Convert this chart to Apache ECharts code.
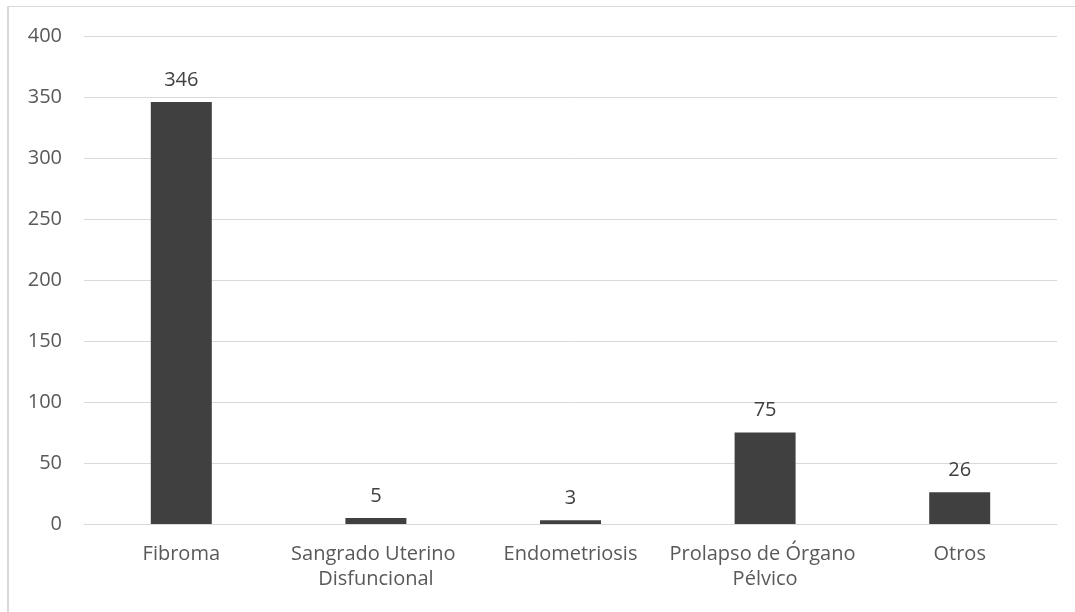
<!DOCTYPE html>
<html>
<head>
<meta charset="utf-8">
<script src="https://cdn.jsdelivr.net/npm/echarts@6/dist/echarts.min.js"></script>
<style>
  html, body { margin: 0; padding: 0; background: #ffffff; }
  #frame { position: absolute; left: 7px; top: 6px; width: 1100px; height: 700px;
           border-top: 1px solid #d9d9d9; border-left: 2px solid #d9d9d9; }
  #chart { position: absolute; left: 0; top: 0; width: 1075px; height: 612px; }
</style>
</head>
<body>
<div id="frame"></div>
<div id="chart"></div>
<script>
// Hysterectomy indications and case counts
const categories = ['Fibroma', 'Sangrado Uterino Disfuncional', 'Endometriosis', 'Prolapso de Órgano Pélvico', 'Otros'];
const counts = [346, 5, 3, 75, 26];
const yTicks = { min: 0, max: 400, step: 50 };

const chart = echarts.init(document.getElementById('chart'), null, { renderer: 'canvas' });
const font = '"Open Sans", sans-serif';

chart.setOption({
  animation: false,
  grid: { left: 84, right: 18, top: 36, bottom: 88 },
  xAxis: {
    type: 'category',
    data: categories,
    axisLine: { show: true, lineStyle: { color: '#d9d9d9', width: 1 } },
    axisTick: { show: false },
    axisLabel: {
      color: '#595959', fontFamily: font, fontSize: 20, margin: 18,
      lineHeight: 25, width: 205, overflow: 'break', interval: 0
    }
  },
  yAxis: {
    type: 'value',
    min: yTicks.min, max: yTicks.max, interval: yTicks.step,
    axisLine: { show: false },
    axisTick: { show: false },
    splitLine: { lineStyle: { color: '#d9d9d9', width: 1 } },
    axisLabel: { color: '#595959', fontFamily: font, fontSize: 20, margin: 22 }
  },
  series: [{
    type: 'bar',
    data: counts,
    barWidth: 61,
    itemStyle: { color: '#404040' },
    label: {
      show: true, position: 'top', distance: 12,
      color: '#404040', fontFamily: font, fontSize: 20
    }
  }]
});
</script>
</body>
</html>
